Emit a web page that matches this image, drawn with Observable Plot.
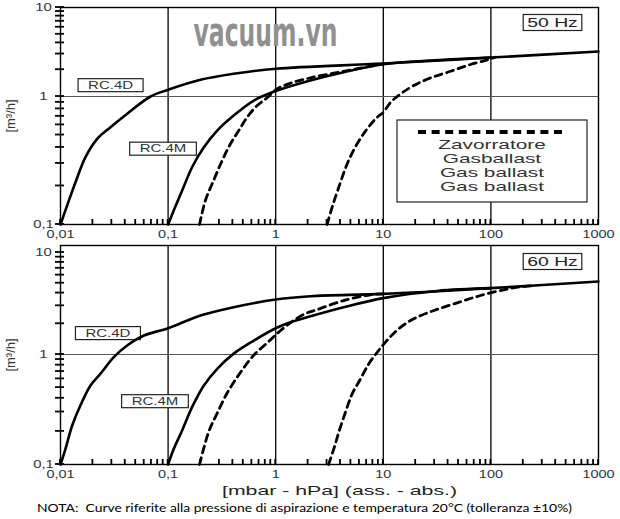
<!DOCTYPE html>
<html><head><meta charset="utf-8">
<script src="https://cdn.jsdelivr.net/npm/d3@7"></script>
<script src="https://cdn.jsdelivr.net/npm/@observablehq/plot@0.6"></script>
<style>
html,body{margin:0;padding:0;background:#fff;}
#chart{position:relative;width:620px;height:519px;overflow:hidden;font-family:Arial,"Liberation Sans",sans-serif;background:#fff;}
#chart svg{display:block;overflow:visible;}
#note{position:absolute;left:37px;top:500px;font-family:Lato,"Open Sans",sans-serif;font-size:11px;line-height:16px;color:#000;white-space:pre;transform-origin:0 50%;}
</style></head><body><div id="chart"><div id="note"></div></div>
<script>
// ---- texts and ticks ----
const xTicks = [0.01, 0.1, 1, 10, 100, 1000];
const xTickLabels = ["0,01", "0,1", "1", "10", "100", "1000"];
const yTicks = [0.1, 1, 10];
const yTickLabels = ["0,1", "1", "10"];
const xGrid = [0.1, 1, 10, 100];
const yGrid = [1];
const panelLabels = ["50 Hz", "60 Hz"];
const modelNames = ["RC.4D", "RC.4M"];
const legendLines = ["Zavorratore", "Gasballast", "Gas ballast", "Gas ballast"];
const xTitle = "[mbar - hPa] (ass. - abs.)";
const yTitle = "[m³/h]";
const noteText = "NOTA:  Curve riferite alla pressione di aspirazione e temperatura 20°C (tolleranza ±10%)";
const watermark = "vacuum.vn";

// label anchors [pressure, flow] for RC.4D, RC.4M
const labels50 = [[0.0292, 1.33], [0.0897, 0.389]];
const labels60 = [[0.0276, 1.61], [0.0755, 0.374]];

// ---- 50 Hz curves: [pressure mbar, flow m3/h] ----
const rc4d_50 = [[0.01,0.1],[0.01153,0.141],[0.01379,0.214],[0.01707,0.336],[0.02193,0.467],[0.02916,0.575],[0.04166,0.733],[0.0686,1.0],[0.1,1.19],[0.2,1.54],[0.407,1.80],[1,2.05],[10,2.35],[100,2.74],[1000,3.2]];
const rc4m_50 = [[0.1,0.1],[0.113,0.129],[0.135,0.184],[0.167,0.28],[0.215,0.401],[0.286,0.542],[0.407,0.71],[0.626,0.93],[1,1.15],[2.1,1.51],[4.29,1.87],[10,2.3],[30,2.55],[100,2.74]];
const rc4m_50_gb = [[0.196,0.1],[0.222,0.154],[0.265,0.221],[0.318,0.316],[0.38,0.427],[0.454,0.542],[0.543,0.689],[0.673,0.85],[0.834,0.98],[1.03,1.22],[1.37,1.41],[2.1,1.62],[4.29,1.92],[10,2.33]];
const rc4d_50_gb = [[3.0,0.1],[3.35,0.137],[3.86,0.196],[4.62,0.298],[5.71,0.427],[7.08,0.559],[8.77,0.689],[10,0.752],[11.7,0.9],[14.5,1.07],[19.2,1.33],[27.5,1.62],[42.2,1.92],[64.6,2.29],[92.5,2.58],[110,2.76]];

// ---- 60 Hz curves ----
const rc4d_60 = [[0.01,0.1],[0.01113,0.139],[0.01284,0.226],[0.0153,0.344],[0.019,0.523],[0.0235,0.668],[0.0313,0.945],[0.0416,1.225],[0.0596,1.535],[0.1,1.81],[0.2,2.41],[0.407,2.91],[1,3.46],[2.1,3.73],[10,3.93],[100,4.47],[1000,5.19]];
const rc4m_60 = [[0.1,0.1],[0.113,0.139],[0.135,0.204],[0.167,0.332],[0.215,0.523],[0.286,0.741],[0.407,1.02],[0.626,1.37],[1,1.81],[1.37,2.07],[2.1,2.37],[4.29,2.91],[10,3.57],[31.7,4.2],[100,4.47]];
const rc4m_60_gb = [[0.196,0.1],[0.237,0.195],[0.288,0.297],[0.356,0.451],[0.47,0.686],[0.622,0.98],[0.84,1.31],[1.11,1.72],[1.46,2.15],[1.89,2.52],[2.3,2.7],[4.29,3.38],[7.6,3.85],[10,3.93]];
const rc4d_60_gb = [[3.1,0.1],[3.47,0.139],[3.86,0.197],[4.45,0.299],[5.14,0.439],[6.14,0.6],[7.33,0.822],[8.77,1.05],[10.8,1.37],[13.9,1.79],[19.2,2.24],[29.5,2.7],[48.6,3.21],[80,3.79],[131.8,4.31],[176,4.57],[250,4.72]];

// ---- table ----
const rows = [];
function add(panel, model, kind, pts) { for (const [p, q] of pts) rows.push({panel, model, kind, p, q}); }
add("50 Hz", "RC.4D", "std", rc4d_50);
add("50 Hz", "RC.4M", "std", rc4m_50);
add("50 Hz", "RC.4M", "gb", rc4m_50_gb);
add("50 Hz", "RC.4D", "gb", rc4d_50_gb);
add("60 Hz", "RC.4D", "std", rc4d_60);
add("60 Hz", "RC.4M", "std", rc4m_60);
add("60 Hz", "RC.4M", "gb", rc4m_60_gb);
add("60 Hz", "RC.4D", "gb", rc4d_60_gb);

// minor ticks of the log axes
const minorX = []; for (let e = -2; e <= 2; e++) for (let m = 1; m <= 9; m++) minorX.push(+(m * Math.pow(10, e)).toPrecision(3)); minorX.push(1000);
const minorY = []; for (let e = -1; e <= 0; e++) for (let m = 1; m <= 9; m++) minorY.push(+(m * Math.pow(10, e)).toPrecision(3)); minorY.push(10);

function makePanel(hz, cfg) {
  const data = rows.filter(r => r.panel === hz);
  const lab = modelNames.map((m, i) => ({text: m, p: cfg.labels[i][0], q: cfg.labels[i][1]}));
  const marks = [
    Plot.ruleX(xGrid, {stroke: "#000", strokeWidth: 1.3}),
    Plot.ruleY(yGrid, {stroke: "#555", strokeWidth: 1}),
    Plot.frame({stroke: "#000", strokeWidth: 1.4}),
    Plot.axisX(xTicks, {anchor: "bottom", tickSize: 0, tickPadding: 6, label: null, fontSize: 10.2, fill: "#333",
      tickFormat: d => xTickLabels[xTicks.indexOf(d)]}),
    Plot.axisY(yTicks, {anchor: "left", tickSize: 0, tickPadding: 17, textAnchor: "middle", label: null, fontSize: 10.5, fill: "#333",
      tickFormat: d => yTickLabels[yTicks.indexOf(d)]}),
    Plot.text(lab, {x: "p", y: "q", text: "text", fontSize: 10, fill: "#333"}),
    Plot.line(data.filter(d => d.kind === "std"), {x: "p", y: "q", z: "model", curve: "catmull-rom", stroke: "#000", strokeWidth: 2.6}),
    Plot.line(data.filter(d => d.kind === "gb"), {x: "p", y: "q", z: "model", curve: "catmull-rom", stroke: "#000", strokeWidth: 2.8, strokeDasharray: "7,5"}),
    Plot.text([hz], {frameAnchor: "top-right", dx: -46, dy: cfg.hzDy, textAnchor: "middle", lineAnchor: "middle", fontSize: 12.5, fill: "#222"}),
    Plot.text([yTitle], {frameAnchor: "left", dx: -50, rotate: -90, textAnchor: "middle", lineAnchor: "middle", fontSize: 13, fill: "#333"})
  ];
  if (cfg.watermark) marks.push(Plot.text([watermark], {frameAnchor: "top-left", dx: 133, dy: 38, lineAnchor: "bottom", textAnchor: "start",
      fontSize: 40, fontWeight: "bold", fontFamily: "'DejaVu Sans Condensed','DejaVu Sans',sans-serif", fill: "#909090"}));
  if (cfg.xTitle) marks.push(Plot.text([xTitle], {frameAnchor: "bottom", dx: 10, dy: 26, textAnchor: "middle", lineAnchor: "middle", fontSize: 13.5, fill: "#222"}));
  return Plot.plot({
    width: 620, height: cfg.height,
    marginLeft: 60, marginRight: 22, marginTop: cfg.marginTop, marginBottom: cfg.marginBottom,
    x: {type: "log", domain: [0.01, 1000], axis: null, label: null},
    y: {type: "log", domain: [0.1, 1, 10], range: cfg.yRange, axis: null, label: null},
    style: {fontFamily: "Arial, 'Liberation Sans', sans-serif", background: "#fff", overflow: "visible"},
    marks
  });
}

const chart = document.getElementById("chart");
const top1 = makePanel("50 Hz", {height: 242, marginTop: 7, marginBottom: 18, yRange: [224, 96, 7], labels: labels50, hzDy: 15, watermark: true});
const bot1 = makePanel("60 Hz", {height: 258, marginTop: 3, marginBottom: 36, yRange: [222, 112, 10], labels: labels60, hzDy: 16, xTitle: true});
chart.insertBefore(top1, chart.firstChild);
chart.insertBefore(bot1, document.getElementById("note"));

// ---- minor ticks crossing the axis lines, placed with the plot's own scales ----
function addMinorTicks(svg) {
  const sx = svg.scale("x"), sy = svg.scale("y");
  const yb = sy.apply(0.1), xl = sx.apply(0.01);
  const g = d3.select(svg).append("g").attr("stroke", "#000").attr("stroke-width", 1.8);
  minorX.forEach(v => { const X = sx.apply(v); g.append("line").attr("x1", X).attr("x2", X).attr("y1", yb - 5).attr("y2", yb + 1); });
  minorY.forEach(v => { const Y = sy.apply(v); g.append("line").attr("x1", xl - 5).attr("x2", xl + 4).attr("y1", Y).attr("y2", Y); });
}
addMinorTicks(top1);
addMinorTicks(bot1);

// ---- text styling: horizontally stretched glyphs and boxed labels ----
const NS = "http://www.w3.org/2000/svg";
function setLen(t, len) { t.setAttribute("textLength", len.toFixed(1)); t.setAttribute("lengthAdjust", "spacingAndGlyphs"); }
function stretch(t, f) { setLen(t, t.getComputedTextLength() * f); }
function addBox(t, padX, h) {
  const bb = t.getBBox();
  const r = document.createElementNS(NS, "rect");
  r.setAttribute("x", bb.x - padX); r.setAttribute("width", bb.width + 2 * padX);
  r.setAttribute("y", bb.y + bb.height / 2 - h / 2); r.setAttribute("height", h);
  r.setAttribute("fill", "#fff"); r.setAttribute("stroke", "#222"); r.setAttribute("stroke-width", 1.2);
  if (t.getAttribute("transform")) r.setAttribute("transform", t.getAttribute("transform"));
  t.parentNode.insertBefore(r, t);
}
[top1, bot1].forEach(svg => {
  svg.querySelectorAll("text").forEach(t => {
    const s = t.textContent;
    if (s === yTitle) return;
    if (s === watermark) { setLen(t, 144); return; }
    if (modelNames.includes(s)) { stretch(t, 1.5); addBox(t, 10, 13); return; }
    if (panelLabels.includes(s)) { stretch(t, 1.55); addBox(t, 4, 16); return; }
    if (s === xTitle) { setLen(t, 235); return; }
    stretch(t, 1.42);
  });
});

// ---- legend (top panel) ----
const leg = d3.select(top1).append("g").attr("font-family", "Arial, 'Liberation Sans', sans-serif");
leg.append("rect").attr("x", 397).attr("y", 120).attr("width", 190).attr("height", 82)
  .attr("fill", "#fff").attr("stroke", "#222").attr("stroke-width", 1.2);
leg.append("line").attr("x1", 418).attr("x2", 562).attr("y1", 132).attr("y2", 132)
  .attr("stroke", "#000").attr("stroke-width", 4).attr("stroke-dasharray", "8,5.6");
legendLines.forEach((s, i) => {
  const t = leg.append("text").attr("x", 492).attr("y", 144 + 14.3 * i).attr("dy", "0.35em")
    .attr("text-anchor", "middle").attr("font-size", 13).attr("fill", "#333").text(s).node();
  stretch(t, 1.6);
});

// ---- note ----
const noteEl = document.getElementById("note");
noteEl.textContent = noteText;
const nw = noteEl.getBoundingClientRect().width;
noteEl.style.transform = `scaleX(${535 / nw})`;
</script></body></html>
